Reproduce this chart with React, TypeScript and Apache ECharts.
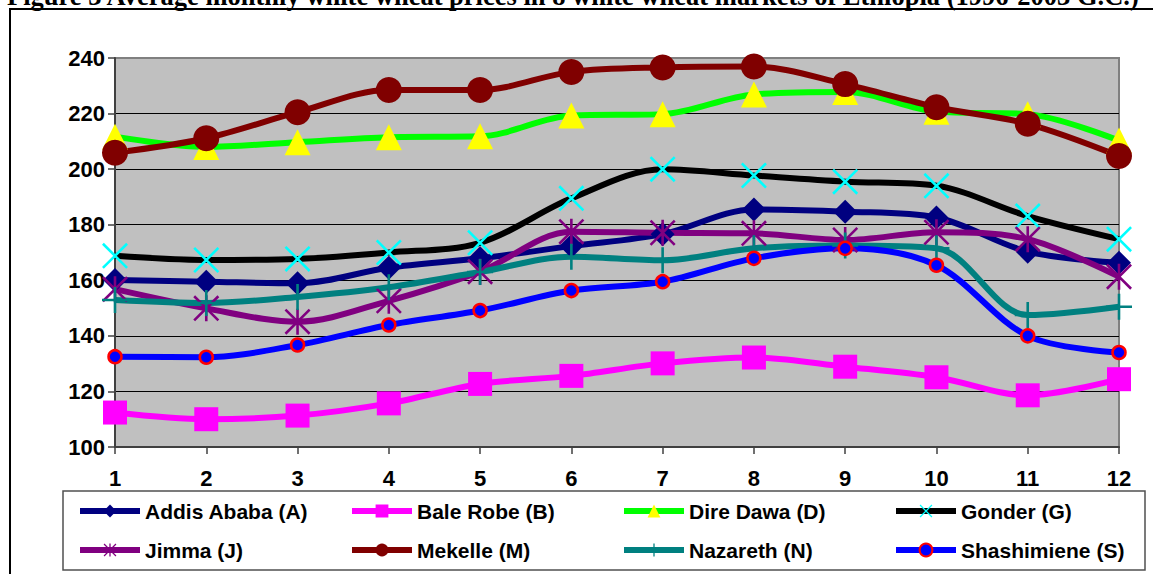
import { useEffect, useRef } from "react";
import * as echarts from "echarts";

// Months of the year (category axis)
const months = ["1", "2", "3", "4", "5", "6", "7", "8", "9", "10", "11", "12"];

// Average monthly white wheat prices per market
const addisAbaba = [160.1, 159.5, 158.9, 164.5, 167.9, 172.3, 176.6, 185.5, 184.7, 182.6, 170.3, 166.3];
const baleRobe = [112.4, 110.0, 111.3, 115.7, 122.7, 125.6, 130.1, 132.2, 128.9, 125.1, 118.6, 124.4];
const direDawa = [211.7, 208.0, 209.7, 211.5, 211.8, 219.3, 219.8, 226.9, 227.8, 220.7, 219.8, 210.3];
const gonder = [168.8, 167.3, 167.7, 170.0, 173.5, 189.5, 200.0, 197.7, 195.5, 194.0, 183.1, 174.8];
const jimma = [156.8, 149.9, 145.1, 152.6, 163.1, 177.5, 177.1, 176.9, 174.5, 177.3, 174.8, 161.3];
const mekelle = [205.9, 211.1, 220.5, 228.5, 228.5, 235.0, 236.6, 236.9, 230.6, 222.3, 216.3, 204.7];
const nazareth = [152.9, 151.8, 154.0, 157.5, 163.0, 168.5, 167.2, 171.5, 172.5, 171.5, 147.5, 150.5];
const shashimiene = [132.5, 132.3, 136.7, 143.9, 149.1, 156.3, 159.5, 167.9, 171.5, 165.4, 140.0, 134.0];

// Y axis range and step
const yMin = 100;
const yMax = 240;
const yStep = 20;

const titleText =
  "Figure 3 Average monthly white wheat prices in 8 white wheat markets of Ethiopia (1996-2003 G.C.)";

// Marker shapes drawn as filled outlines
const xMark = "path://M7,0L100,93L93,100L0,7ZM93,0L100,7L7,100L0,93Z";
const starMark = "path://M7,0L100,93L93,100L0,7ZM93,0L100,7L7,100L0,93ZM45,0L55,0L55,100L45,100Z";
const plusMark = "path://M45,0H55V45H100V55H55V100H45V55H0V45H45Z";

const sansFont = "'Liberation Sans', Arial, Helvetica, sans-serif";

type Market = {
  name: string;
  data: number[];
  line: string;
  fill: string;
  symbol: string;
  size: number;
  border?: string;
};

const markets: Market[] = [
  { name: "Addis Ababa (A)", data: addisAbaba, line: "#000080", fill: "#000080", symbol: "diamond", size: 24 },
  { name: "Bale Robe (B)", data: baleRobe, line: "#FF00FF", fill: "#FF00FF", symbol: "rect", size: 24 },
  { name: "Dire Dawa (D)", data: direDawa, line: "#00FF00", fill: "#FFFF00", symbol: "triangle", size: 26 },
  { name: "Gonder (G)", data: gonder, line: "#000000", fill: "#00FFFF", symbol: xMark, size: 26 },
  { name: "Jimma (J)", data: jimma, line: "#800080", fill: "#800080", symbol: starMark, size: 26 },
  { name: "Mekelle (M)", data: mekelle, line: "#800000", fill: "#800000", symbol: "circle", size: 26 },
  { name: "Nazareth (N)", data: nazareth, line: "#008080", fill: "#008080", symbol: plusMark, size: 26 },
  { name: "Shashimiene (S)", data: shashimiene, line: "#0000FF", fill: "#0000FF", symbol: "circle", size: 13, border: "#FF0000" },
];

function legendRow(names: string[], top: number) {
  return {
    data: names,
    left: 77,
    top,
    width: 1100,
    orient: "horizontal" as const,
    padding: 0,
    itemGap: 5,
    itemWidth: 60,
    itemHeight: 16,
    selectedMode: false,
    lineStyle: { width: 6 },
    textStyle: {
      fontFamily: sansFont,
      fontWeight: "bold" as const,
      fontSize: 21,
      color: "#000",
      width: 199,
      lineHeight: 22,
    },
  };
}

export default function App() {
  const ref = useRef<HTMLDivElement>(null);

  useEffect(() => {
    if (!ref.current) return;
    const chart = echarts.init(ref.current, undefined, { renderer: "svg" });

    const series = markets.map((m) => ({
      name: m.name,
      type: "line" as const,
      data: m.data,
      smooth: 0.33,
      symbol: m.symbol,
      symbolSize: m.size,
      showAllSymbol: true,
      lineStyle: { color: m.line, width: 6 },
      itemStyle: {
        color: m.fill,
        borderColor: m.border ?? m.fill,
        borderWidth: m.border ? 2.5 : 0,
      },
      emphasis: { disabled: true },
    }));

    chart.setOption({
      animation: false,
      backgroundColor: "#FFFFFF",
      grid: {
        left: 115,
        right: 34,
        top: 58,
        bottom: 127,
        show: true,
        backgroundColor: "#C0C0C0",
        borderColor: "#808080",
        borderWidth: 2,
      },
      xAxis: {
        type: "category",
        data: months,
        boundaryGap: false,
        axisLine: { show: true, lineStyle: { color: "#404040", width: 2 } },
        axisTick: { show: true, length: 7, alignWithLabel: true, lineStyle: { color: "#404040", width: 1.5 } },
        axisLabel: {
          margin: 20,
          fontFamily: sansFont,
          fontWeight: "bold",
          fontSize: 22,
          color: "#000",
        },
        splitLine: { show: false },
      },
      yAxis: {
        type: "value",
        min: yMin,
        max: yMax,
        interval: yStep,
        axisLine: { show: true, lineStyle: { color: "#404040", width: 2 } },
        axisTick: { show: true, length: 7, lineStyle: { color: "#404040", width: 1.5 } },
        axisLabel: {
          margin: 10,
          fontFamily: sansFont,
          fontWeight: "bold",
          fontSize: 22,
          color: "#000",
        },
        splitLine: { show: true, showMaxLine: false, showMinLine: false, lineStyle: { color: "#000", width: 1 } },
      },
      legend: [
        legendRow(markets.slice(0, 4).map((m) => m.name), 500),
        legendRow(markets.slice(4).map((m) => m.name), 539),
      ],
      graphic: [
        {
          type: "text",
          left: 7,
          top: -18,
          style: {
            text: titleText,
            fontFamily: "'Liberation Serif', 'Times New Roman', serif",
            fontWeight: "bold",
            fontSize: 26.5,
            fill: "#000",
          },
        },
        {
          type: "rect",
          shape: { x: 10, y: 9, width: 1160, height: 580 },
          style: { fill: "none", stroke: "#000", lineWidth: 2 },
          silent: true,
        },
        {
          type: "rect",
          shape: { x: 63, y: 491, width: 1082, height: 79 },
          style: { fill: "none", stroke: "#505050", lineWidth: 1.5 },
          silent: true,
        },
      ],
      series,
    });

    return () => chart.dispose();
  }, []);

  return (
    <div
      ref={ref}
      style={{ position: "absolute", left: 0, top: 0, width: 1153, height: 574, background: "#fff" }}
    />
  );
}
